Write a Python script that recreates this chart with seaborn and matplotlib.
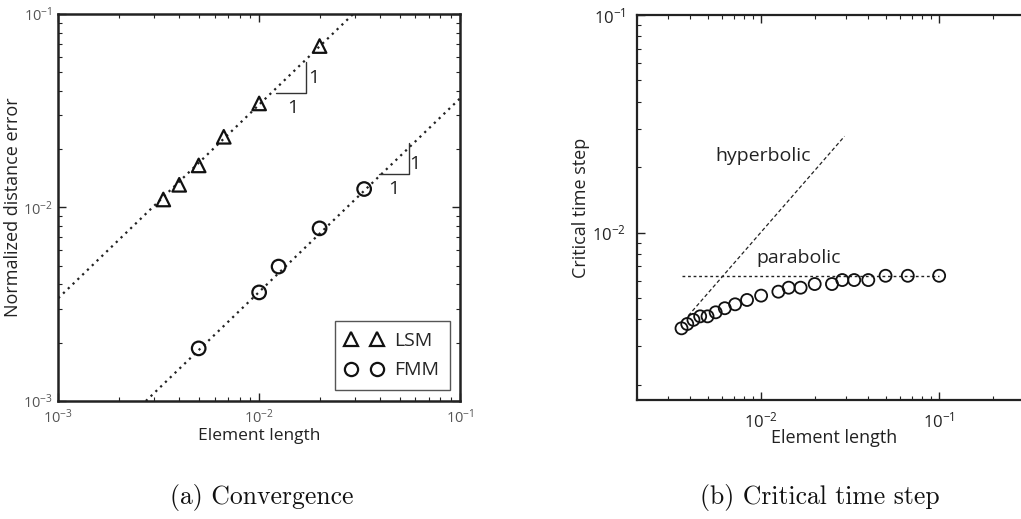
import numpy as np
import pandas as pd
import seaborn as sns
import matplotlib.pyplot as plt
from matplotlib.lines import Line2D
from matplotlib.ticker import LogLocator, NullFormatter

# (a) convergence data
lsm_h = [1/300, 1/250, 1/200, 1/150, 1/100, 1/50]
lsm_err = [0.0110, 0.0131, 0.0165, 0.0232, 0.0345, 0.0683]
fmm_h = [1/200, 1/100, 1/80, 1/50, 1/30]
fmm_err = [0.00187, 0.00364, 0.00495, 0.0078, 0.01246]
lsm_fit_h = [0.001, 0.0294]
lsm_fit_err = [0.0034, 0.1]
fmm_fit_h = [0.00273, 0.1]
fmm_fit_err = [0.001, 0.0366]
lsm_tri_h = [0.0122, 0.0171, 0.0171]
lsm_tri_err = [0.0389, 0.0389, 0.0567]
fmm_tri_h = [0.0396, 0.0555, 0.0555]
fmm_tri_err = [0.01483, 0.01483, 0.02146]

# (b) critical time step data
crit_h = [1/280, 1/260, 1/240, 1/220, 1/200, 1/180, 1/160, 1/140, 1/120, 1/100,
          1/80, 1/70, 1/60, 1/50, 1/40, 1/35, 1/30, 1/25, 1/20, 1/15, 1/10]
crit_dt = [0.00363, 0.00380, 0.00397, 0.00412, 0.00412, 0.00430, 0.00449, 0.00468,
           0.00490, 0.00513, 0.00535, 0.00558, 0.00558, 0.00580, 0.00580, 0.00605,
           0.00605, 0.00605, 0.00633, 0.00633, 0.00633]
para_h = [0.0036, 0.1]
para_dt = [0.00633, 0.00633]
hyper_h = [0.0039, 0.0294]
hyper_dt = [0.00415, 0.0277]

sns.set_style("ticks")
plt.rcParams['font.family'] = ['Open Sans', 'DejaVu Sans']
plt.rcParams['mathtext.fontset'] = 'custom'
plt.rcParams['mathtext.rm'] = 'Open Sans'
plt.rcParams['mathtext.it'] = 'Open Sans'
plt.rcParams['mathtext.default'] = 'regular'

fig = plt.figure(figsize=(10.21, 5.19), dpi=100)
ax1 = fig.add_axes([0.0571, 0.2274, 0.3934, 0.7456])
ax2 = fig.add_axes([0.6236, 0.2293, 0.3794, 0.7418])


def style_axes(ax, lw, color, size, right=True):
    ax.set_xscale('log')
    ax.set_yscale('log')
    for s in ax.spines.values():
        s.set_linewidth(lw)
        s.set_color('#222222')
    ax.xaxis.set_minor_locator(LogLocator(base=10, subs=np.arange(2, 10)))
    ax.yaxis.set_minor_locator(LogLocator(base=10, subs=np.arange(2, 10)))
    ax.xaxis.set_minor_formatter(NullFormatter())
    ax.yaxis.set_minor_formatter(NullFormatter())
    ax.tick_params(which='both', direction='in', top=True, right=right,
                   colors='#222222', labelcolor=color, labelsize=size)
    ax.tick_params(which='major', length=6, width=1)
    ax.tick_params(which='minor', length=3, width=0.8)


# ---- (a) Convergence ----
style_axes(ax1, 1.8, '#555555', 10.5)
sns.lineplot(x=lsm_fit_h, y=lsm_fit_err, ax=ax1, color='#222222', lw=1.6,
             linestyle=(0, (1, 2)), estimator=None, sort=False)
sns.lineplot(x=fmm_fit_h, y=fmm_fit_err, ax=ax1, color='#222222', lw=1.6,
             linestyle=(0, (1, 2)), estimator=None, sort=False)
sns.scatterplot(x=lsm_h, y=lsm_err, ax=ax1, marker='^', s=95, facecolors='none',
                edgecolors='#111111', linewidth=1.6, zorder=3)
sns.scatterplot(x=fmm_h, y=fmm_err, ax=ax1, marker='o', s=95, facecolors='none',
                edgecolors='#111111', linewidth=1.6, zorder=3)
sns.lineplot(x=lsm_tri_h, y=lsm_tri_err, ax=ax1, color='#333333', lw=1,
             estimator=None, sort=False)
sns.lineplot(x=fmm_tri_h, y=fmm_tri_err, ax=ax1, color='#333333', lw=1,
             estimator=None, sort=False)
ax1.text(0.0186, 0.0466, '1', fontsize=14, ha='center', va='center', color='#222222')
ax1.text(0.0147, 0.0326, '1', fontsize=14, ha='center', va='center', color='#222222')
ax1.text(0.0597, 0.0167, '1', fontsize=14, ha='center', va='center', color='#222222')
ax1.text(0.0466, 0.01242, '1', fontsize=14, ha='center', va='center', color='#222222')
ax1.set_xlim(1e-3, 1e-1)
ax1.set_ylim(1e-3, 1e-1)
ax1.tick_params(axis='y', pad=4)
ax1.tick_params(axis='x', pad=5)
ax1.set_xlabel('Element length', fontsize=12.5, color='#222222', va='top')
ax1.set_ylabel('Normalized distance error', fontsize=13, color='#222222')
ax1.xaxis.set_label_coords(0.5, -0.07)
ax1.yaxis.set_label_coords(-0.09, 0.5)
handles = [Line2D([], [], ls='none', marker='^', ms=9.5, mfc='none', mec='#111111', mew=1.6),
           Line2D([], [], ls='none', marker='o', ms=9.5, mfc='none', mec='#111111', mew=1.6)]
leg = ax1.legend(handles, ['LSM', 'FMM'], loc='lower right', bbox_to_anchor=(0.975, 0.028),
                 borderaxespad=0, numpoints=2, fontsize=14, handlelength=1.9,
                 handletextpad=0.6, borderpad=0.55, labelspacing=0.6,
                 fancybox=False, framealpha=1)
leg.get_frame().set_edgecolor('#555555')
leg.get_frame().set_linewidth(1)

# ---- (b) Critical time step ----
style_axes(ax2, 1.6, '#222222', 12, right=False)
sns.lineplot(x=hyper_h, y=hyper_dt, ax=ax2, color='#222222', lw=0.9,
             linestyle=(0, (3, 2)), estimator=None, sort=False)
sns.lineplot(x=para_h, y=para_dt, ax=ax2, color='#222222', lw=1,
             linestyle=(0, (2, 2)), estimator=None, sort=False)
sns.scatterplot(x=crit_h, y=crit_dt, ax=ax2, marker='o', s=75, facecolors='none',
                edgecolors='#111111', linewidth=1.3, zorder=3)
ax2.text(0.0103, 0.0226, 'hyperbolic', fontsize=14, ha='center', va='center', color='#222222')
ax2.text(0.0162, 0.00762, 'parabolic', fontsize=14, ha='center', va='center', color='#222222')
ax2.set_xlim(0.002, 0.3)
ax2.set_ylim(0.0017, 0.1)
ax2.tick_params(axis='y', pad=8)
ax2.tick_params(axis='x', pad=8)
ax2.set_xlabel('Element length', fontsize=13, color='#222222', va='top')
ax2.set_ylabel('Critical time step', fontsize=13, color='#222222')
ax2.xaxis.set_label_coords(0.51, -0.075)
ax2.yaxis.set_label_coords(-0.12, 0.5)

fig.text(0.256, 0.042, '(a) Convergence', family='cmr10', fontsize=18.5,
         ha='center', va='center', color='#111111')
fig.text(0.803, 0.042, '(b) Critical time step', family='cmr10', fontsize=18.5,
         ha='center', va='center', color='#111111')

fig.savefig('out.png', dpi=100)
